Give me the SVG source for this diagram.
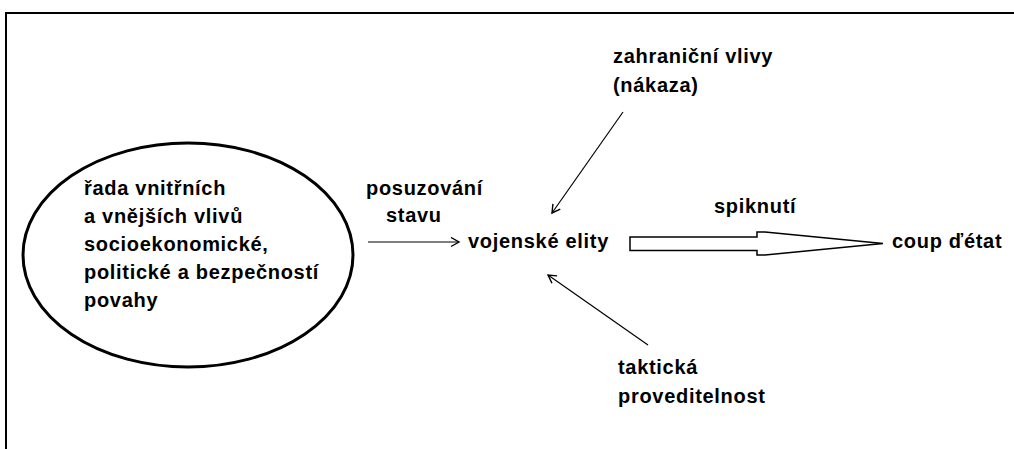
<svg xmlns="http://www.w3.org/2000/svg" width="1014" height="449" viewBox="0 0 1014 449">
  <style>
    .t { font-family: "Liberation Sans", Arial, sans-serif; font-weight: bold; font-size: 20px; letter-spacing: 0.7px; fill: #000; }
    .ln { stroke: #000; stroke-width: 1.2; fill: none; }
  </style>
  <defs>
    <marker id="ah" markerUnits="userSpaceOnUse" markerWidth="14" markerHeight="14" refX="9" refY="5" orient="auto">
      <path d="M1,0.5 L9,5 L1,9.5" fill="none" stroke="#000" stroke-width="1.4"/>
    </marker>
  </defs>
  <rect width="1014" height="449" fill="#fff"/>
  <path d="M6,449 V13 H1014" fill="none" stroke="#000" stroke-width="2"/>

  <g id="factors">
    <ellipse cx="188" cy="255" rx="165" ry="112" fill="none" stroke="#000" stroke-width="3"/>
    <text class="t" x="84" y="195">řada vnitřních</text>
    <text class="t" x="84" y="223">a vnějších vlivů</text>
    <text class="t" x="84" y="251">socioekonomické,</text>
    <text class="t" x="84" y="279">politické a bezpečností</text>
    <text class="t" x="84" y="307">povahy</text>
  </g>

  <g id="assessment">
    <text class="t" x="366" y="195">posuzování</text>
    <text class="t" x="386" y="222">stavu</text>
  </g>

  <g id="elites">
    <text class="t" x="468" y="248">vojenské elity</text>
  </g>

  <g id="foreign">
    <text class="t" x="613" y="63">zahraniční vlivy</text>
    <text class="t" x="613" y="92">(nákaza)</text>
  </g>

  <g id="tactical">
    <text class="t" x="618" y="374">taktická</text>
    <text class="t" x="618" y="403">proveditelnost</text>
  </g>

  <g id="conspiracy">
    <text class="t" x="714" y="213">spiknutí</text>
  </g>

  <g id="coup">
    <text class="t" x="892" y="248">coup ďétat</text>
  </g>

  <g id="connectors">
    <line class="ln" x1="368" y1="242" x2="459" y2="242" marker-end="url(#ah)"/>
    <line class="ln" x1="623" y1="112" x2="552" y2="213" marker-end="url(#ah)"/>
    <line class="ln" x1="648" y1="345" x2="548" y2="275" marker-end="url(#ah)"/>
    <polygon points="630,237 757,237 757,232 765,232 883,243.5 765,255 757,255 757,250.5 630,250.5" fill="#fff" stroke="#000" stroke-width="1.5"/>
  </g>
</svg>
